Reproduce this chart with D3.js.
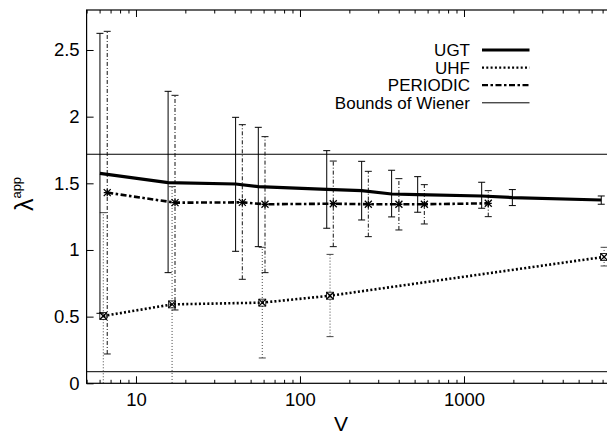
<!DOCTYPE html>
<html><head><meta charset="utf-8">
<script src="https://cdn.jsdelivr.net/npm/d3@7"></script>
<style>body{margin:0;background:#fff} text{font-family:"Liberation Sans",Arial,Helvetica,sans-serif;fill:#000}</style>
</head><body><svg id="c" width="607" height="434"></svg>
<script>
// ---- data ----
const ugtV  = [6.03,15.7,40.5,55.7,145.6,237.7,362,522,1282,1972,6870];
const ugtY  = [1.575,1.505,1.495,1.475,1.455,1.445,1.42,1.415,1.405,1.393,1.375];
const ugtLo = [0.525,0.83,0.99,1.025,1.163,1.225,1.248,1.283,1.313,1.333,1.343];
const ugtHi = [2.625,2.19,1.995,1.92,1.745,1.665,1.598,1.55,1.508,1.453,1.405];

const perV  = [6.68,17.3,44.5,61.2,159.6,261,401,573,1406];
const perY  = [1.43,1.355,1.357,1.343,1.347,1.343,1.343,1.343,1.35];
const perLo = [0.22,0.55,0.78,0.83,1.025,1.10,1.15,1.195,1.25];
const perHi = [2.64,2.16,1.94,1.85,1.667,1.59,1.535,1.49,1.445];

const uhfV  = [6.32,16.6,58.9,152.5,7150];
const uhfY  = [0.505,0.592,0.605,0.657,0.948];
const uhfLo = [-0.27,-0.29,0.19,0.35,0.88];
const uhfHi = [1.28,1.475,1.02,0.967,1.02];

const wienerBounds = [0.087, 1.718];

const xTicks = [10,100,1000];
const xTickLabels = ["10","100","1000"];
const yTicks = [0,0.5,1,1.5,2,2.5];
const yTickLabels = ["0","0.5","1","1.5","2","2.5"];
const legendLabels = ["UGT","UHF","PERIODIC","Bounds of Wiener"];

// ---- layout ----
const L=86.6, R=628, T=10, B=383.3;
const svg = d3.select("#c");
const x = d3.scaleLog().domain([5,10000]).range([L,R]);
const y = d3.scaleLinear().domain([0,2.8]).range([B,T]);

svg.append("clipPath").attr("id","clip").append("rect")
  .attr("x",L).attr("y",T).attr("width",R-L).attr("height",B-T);
const plot = svg.append("g").attr("clip-path","url(#clip)");

// Wiener bounds
plot.selectAll("line.w").data(wienerBounds).join("line")
  .attr("x1",L).attr("x2",R).attr("y1",d=>y(d)).attr("y2",d=>y(d))
  .attr("stroke","#000").attr("stroke-width",1);

function zipS(V,Y,Lo,Hi){return V.map((v,i)=>({v,y:Y[i],lo:Lo[i],hi:Hi[i]}));}
const series = [
  {name:"UHF", d:zipS(uhfV,uhfY,uhfLo,uhfHi), w:2.6, dash:"2,2.2", edash:"1,2", ecol:"#444"},
  {name:"PERIODIC", d:zipS(perV,perY,perLo,perHi), w:2.6, dash:"6,2.5,2.5,2.5", edash:"4,2,1,2", ecol:"#111"},
  {name:"UGT", d:zipS(ugtV,ugtY,ugtLo,ugtHi), w:3.2, dash:null, edash:null, ecol:"#000"}
];
const cap=3.5;
series.forEach(s=>{
  const g=plot.append("g");
  s.d.forEach(p=>{
    const xx=x(p.v);
    const eb=g.append("g").attr("stroke",s.ecol).attr("stroke-width",1).attr("fill","none");
    eb.append("line").attr("x1",xx).attr("x2",xx).attr("y1",y(p.lo)).attr("y2",y(p.hi))
      .attr("stroke-dasharray",s.edash);
    eb.append("line").attr("x1",xx-cap).attr("x2",xx+cap).attr("y1",y(p.lo)).attr("y2",y(p.lo));
    eb.append("line").attr("x1",xx-cap).attr("x2",xx+cap).attr("y1",y(p.hi)).attr("y2",y(p.hi));
  });
  g.append("path").datum(s.d)
    .attr("d",d3.line().x(p=>x(p.v)).y(p=>y(p.y)))
    .attr("fill","none").attr("stroke","#000").attr("stroke-width",s.w)
    .attr("stroke-dasharray",s.dash);
  if(s.name!=="UGT"){
    s.d.forEach(p=>{
      const xx=x(p.v), yy=y(p.y), m=3.5;
      const mg=g.append("g").attr("stroke","#000").attr("stroke-width",1.3);
      mg.append("line").attr("x1",xx-m).attr("x2",xx+m).attr("y1",yy-m).attr("y2",yy+m);
      mg.append("line").attr("x1",xx-m).attr("x2",xx+m).attr("y1",yy+m).attr("y2",yy-m);
      if(s.name==="PERIODIC"){
        mg.append("line").attr("x1",xx-m).attr("x2",xx+m).attr("y1",yy).attr("y2",yy);
        mg.append("line").attr("x1",xx).attr("x2",xx).attr("y1",yy-m).attr("y2",yy+m);
      } else {
        mg.append("rect").attr("x",xx-m).attr("y",yy-m).attr("width",2*m).attr("height",2*m)
          .attr("fill","none").attr("stroke-width",0.8);
      }
    });
  }
});

// border
svg.append("rect").attr("x",L).attr("y",T).attr("width",R-L).attr("height",B-T)
  .attr("fill","none").attr("stroke","#000").attr("stroke-width",1.2);

// ticks (inward) on all sides
const allT = x.ticks();
const minor = allT.filter(t=>!xTicks.includes(t) && t!==10000);
const xAxisB = d3.axisBottom(x).tickValues(xTicks).tickSize(-7).tickPadding(10)
  .tickFormat((d,i)=>xTickLabels[i]);
const gxb = svg.append("g").attr("transform",`translate(0,${B})`).call(xAxisB);
const gxbm = svg.append("g").attr("transform",`translate(0,${B})`)
  .call(d3.axisBottom(x).tickValues(minor).tickSize(-3.5).tickFormat(""));
const gxt = svg.append("g").attr("transform",`translate(0,${T})`)
  .call(d3.axisTop(x).tickValues(xTicks).tickSize(-7).tickFormat(""));
const gxtm = svg.append("g").attr("transform",`translate(0,${T})`)
  .call(d3.axisTop(x).tickValues(minor).tickSize(-3.5).tickFormat(""));
const gyl = svg.append("g").attr("transform",`translate(${L},0)`)
  .call(d3.axisLeft(y).tickValues(yTicks).tickSize(-7).tickPadding(7)
  .tickFormat((d,i)=>yTickLabels[i]));
const gyr = svg.append("g").attr("transform",`translate(${R},0)`)
  .call(d3.axisRight(y).tickValues(yTicks).tickSize(-7).tickFormat(""));
[gxb,gxbm,gxt,gxtm,gyl,gyr].forEach(g=>{
  g.select(".domain").remove();
  g.selectAll("line").attr("stroke","#000").attr("stroke-width",1);
  g.selectAll("text").attr("font-size",18.5).attr("font-family",'"Liberation Sans",Arial,sans-serif').attr("fill","#000");
});

// axis labels
svg.append("text").attr("x",341).attr("y",431).attr("text-anchor","middle")
  .attr("font-size",21).text("V");
const yl = svg.append("text").attr("text-anchor","start");
yl.append("tspan").attr("font-size",25).text("λ");
yl.append("tspan").attr("font-size",13).attr("dy",-12).text("app");
const bb = yl.node().getBBox();
yl.attr("transform",`translate(33,${194 + bb.x + bb.width/2}) rotate(-90)`);

// legend
const legY = [50,67.7,85.2,102.8];
const legStyles = [
  {w:3.2,dash:null},{w:2.3,dash:"2,2.3"},{w:2.3,dash:"6,2.5,2.5,2.5"},{w:1,dash:null}
];
const lg = svg.append("g");
legendLabels.forEach((lab,i)=>{
  lg.append("text").attr("x",470).attr("y",legY[i]).attr("dy","0.36em")
    .attr("text-anchor","end").attr("font-size",17).text(lab);
  lg.append("line").attr("x1",482).attr("x2",529.5).attr("y1",legY[i]).attr("y2",legY[i])
    .attr("stroke","#000").attr("stroke-width",legStyles[i].w)
    .attr("stroke-dasharray",legStyles[i].dash);
});
</script></body></html>
